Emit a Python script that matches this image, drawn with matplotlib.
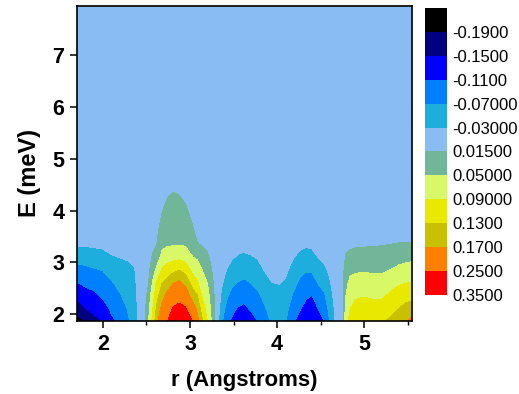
import numpy as np
import matplotlib
matplotlib.use("Agg")
import matplotlib.pyplot as plt
from matplotlib.colors import ListedColormap, BoundaryNorm

plt.rcParams['font.family'] = ['Liberation Sans', 'DejaVu Sans']

# energy rows (meV) and r columns (Angstroms) of the sampled field
e_rows = [1.87, 2.1, 2.35, 2.6, 2.85, 3.1, 3.35, 3.6, 3.9, 4.2, 4.5, 5.0, 7.94]
r_cols = [1.70, 1.80, 1.90, 2.00, 2.10, 2.20, 2.30, 2.36, 2.42, 2.47,
          2.52, 2.57, 2.62, 2.68, 2.74, 2.81, 2.88, 2.95, 3.02, 3.08,
          3.14, 3.20, 3.25, 3.30, 3.36, 3.42, 3.48, 3.55, 3.62, 3.70,
          3.78, 3.86, 3.94, 4.02, 4.10, 4.18, 4.26, 4.33, 4.40, 4.47,
          4.54, 4.60, 4.66, 4.71, 4.75, 4.79, 4.84, 4.90, 5.00, 5.10,
          5.20, 5.30, 5.40, 5.48, 5.56]

# one profile per r column, values at each e_rows entry
profiles = [
    [-0.210, -0.177, -0.141, -0.112, -0.084, -0.055, -0.024, -0.010, 0, 0, 0, 0, 0],
    [-0.185, -0.151, -0.127, -0.103, -0.080, -0.053, -0.025, -0.010, 0, 0, 0, 0, 0],
    [-0.160, -0.142, -0.119, -0.096, -0.074, -0.048, -0.024, -0.010, 0, 0, 0, 0, 0],
    [-0.148, -0.127, -0.104, -0.087, -0.069, -0.043, -0.022, -0.010, 0, 0, 0, 0, 0],
    [-0.115, -0.105, -0.090, -0.074, -0.054, -0.033, -0.018, -0.008, 0, 0, 0, 0, 0],
    [-0.105, -0.090, -0.073, -0.058, -0.044, -0.029, -0.016, -0.006, 0, 0, 0, 0, 0],
    [-0.072, -0.064, -0.055, -0.046, -0.037, -0.027, -0.014, -0.005, 0, 0, 0, 0, 0],
    [-0.050, -0.047, -0.043, -0.039, -0.033, -0.020, -0.010, 0, 0, 0, 0, 0, 0],
    [-0.020, -0.018, -0.015, -0.012, -0.010, -0.006, -0.003, 0, 0, 0, 0, 0, 0],
    [0, 0, 0, 0, 0, 0, 0, 0, 0, 0, 0, 0, 0],
    [0.045, 0.035, 0.025, 0.012, 0.005, 0, 0, 0, 0, 0, 0, 0, 0],
    [0.100, 0.088, 0.072, 0.053, 0.035, 0.018, 0.008, 0.003, 0, 0, 0, 0, 0],
    [0.160, 0.140, 0.118, 0.099, 0.059, 0.035, 0.015, 0.008, 0.003, 0, 0, 0, 0],
    [0.210, 0.185, 0.155, 0.130, 0.095, 0.060, 0.042, 0.031, 0.017, 0.008, 0.003, 0, 0],
    [0.248, 0.219, 0.186, 0.145, 0.109, 0.072, 0.045, 0.037, 0.026, 0.016, 0.007, 0, 0],
    [0.300, 0.259, 0.214, 0.170, 0.121, 0.077, 0.047, 0.039, 0.029, 0.020, 0.010, 0, 0],
    [0.310, 0.270, 0.228, 0.180, 0.130, 0.080, 0.048, 0.039, 0.029, 0.018, 0.008, 0, 0],
    [0.290, 0.257, 0.207, 0.157, 0.116, 0.073, 0.045, 0.035, 0.023, 0.012, 0.004, 0, 0],
    [0.255, 0.204, 0.155, 0.118, 0.082, 0.052, 0.036, 0.021, 0.010, 0.003, 0, 0, 0],
    [0.190, 0.164, 0.134, 0.097, 0.070, 0.045, 0.017, 0.008, 0.003, 0, 0, 0, 0],
    [0.135, 0.111, 0.086, 0.068, 0.050, 0.030, 0.012, 0.005, 0, 0, 0, 0, 0],
    [0.088, 0.076, 0.063, 0.050, 0.035, 0.020, 0.007, 0.002, 0, 0, 0, 0, 0],
    [0.045, 0.038, 0.032, 0.024, 0.015, 0.007, 0.002, 0, 0, 0, 0, 0, 0],
    [0, 0, 0, 0, 0, 0, 0, 0, 0, 0, 0, 0, 0],
    [-0.062, -0.049, -0.035, -0.024, -0.015, -0.008, -0.003, 0, 0, 0, 0, 0, 0],
    [-0.100, -0.082, -0.064, -0.047, -0.031, -0.018, -0.008, -0.002, 0, 0, 0, 0, 0],
    [-0.115, -0.101, -0.083, -0.064, -0.045, -0.026, -0.012, -0.004, 0, 0, 0, 0, 0],
    [-0.135, -0.114, -0.093, -0.072, -0.053, -0.034, -0.017, -0.006, 0, 0, 0, 0, 0],
    [-0.143, -0.120, -0.097, -0.077, -0.057, -0.037, -0.018, -0.006, 0, 0, 0, 0, 0],
    [-0.125, -0.106, -0.088, -0.070, -0.051, -0.033, -0.016, -0.005, 0, 0, 0, 0, 0],
    [-0.110, -0.095, -0.078, -0.061, -0.044, -0.027, -0.013, -0.004, 0, 0, 0, 0, 0],
    [-0.085, -0.074, -0.058, -0.043, -0.028, -0.017, -0.008, -0.002, 0, 0, 0, 0, 0],
    [-0.065, -0.055, -0.043, -0.031, -0.020, -0.012, -0.005, 0, 0, 0, 0, 0, 0],
    [-0.062, -0.052, -0.041, -0.029, -0.018, -0.010, -0.004, 0, 0, 0, 0, 0, 0],
    [-0.070, -0.059, -0.047, -0.035, -0.024, -0.014, -0.006, 0, 0, 0, 0, 0, 0],
    [-0.105, -0.090, -0.073, -0.058, -0.042, -0.027, -0.013, -0.004, 0, 0, 0, 0, 0],
    [-0.125, -0.107, -0.092, -0.077, -0.060, -0.040, -0.021, -0.008, -0.002, 0, 0, 0, 0],
    [-0.145, -0.125, -0.104, -0.086, -0.067, -0.046, -0.025, -0.010, -0.003, 0, 0, 0, 0],
    [-0.155, -0.134, -0.112, -0.089, -0.066, -0.044, -0.022, -0.008, -0.002, 0, 0, 0, 0],
    [-0.135, -0.111, -0.090, -0.069, -0.049, -0.030, -0.014, -0.004, 0, 0, 0, 0, 0],
    [-0.110, -0.094, -0.076, -0.057, -0.038, -0.022, -0.010, -0.003, 0, 0, 0, 0, 0],
    [-0.072, -0.061, -0.050, -0.037, -0.024, -0.013, -0.005, 0, 0, 0, 0, 0, 0],
    [-0.032, -0.028, -0.020, -0.012, -0.005, 0, 0, 0, 0, 0, 0, 0, 0],
    [0, 0, 0, 0, 0, 0, 0, 0, 0, 0, 0, 0, 0],
    [0, 0, 0, 0, 0, 0, 0, 0, 0, 0, 0, 0, 0],
    [0.075, 0.065, 0.050, 0.042, 0.033, 0.018, 0.006, 0.002, 0, 0, 0, 0, 0],
    [0.105, 0.090, 0.075, 0.059, 0.043, 0.025, 0.008, 0.002, 0, 0, 0, 0, 0],
    [0.118, 0.102, 0.086, 0.065, 0.045, 0.028, 0.010, 0.003, 0, 0, 0, 0, 0],
    [0.120, 0.105, 0.089, 0.067, 0.047, 0.029, 0.011, 0.003, 0, 0, 0, 0, 0],
    [0.122, 0.105, 0.085, 0.064, 0.045, 0.029, 0.012, 0.004, 0, 0, 0, 0, 0],
    [0.128, 0.108, 0.083, 0.063, 0.045, 0.030, 0.013, 0.004, 0, 0, 0, 0, 0],
    [0.135, 0.118, 0.098, 0.075, 0.051, 0.032, 0.015, 0.005, 0, 0, 0, 0, 0],
    [0.155, 0.132, 0.109, 0.086, 0.059, 0.037, 0.016, 0.006, 0, 0, 0, 0, 0],
    [0.168, 0.143, 0.117, 0.090, 0.063, 0.040, 0.016, 0.006, 0, 0, 0, 0, 0],
    [0.185, 0.151, 0.120, 0.093, 0.066, 0.042, 0.016, 0.006, 0, 0, 0, 0, 0],
]

levels = [-0.23, -0.19, -0.15, -0.11, -0.07, -0.03, 0.015,
          0.05, 0.09, 0.13, 0.17, 0.25, 0.35]
level_labels = ['-0.1900', '-0.1500', '-0.1100', '-0.07000', '-0.03000', '0.01500',
                '0.05000', '0.09000', '0.1300', '0.1700', '0.2500', '0.3500']
colors = ['#000000', '#000080', '#0000FF', '#0080FF', '#1EAEDE', '#88BCF2',
          '#72B69A', '#D8F868', '#E8E800', '#C8C000', '#FF8000', '#FF0000']

z = np.array(profiles).T

fig = plt.figure(figsize=(5.19, 3.94), dpi=100)
ax = fig.add_axes([0.148, 0.185, 0.646, 0.800])

cmap = ListedColormap(colors)
norm = BoundaryNorm(levels, cmap.N)
cs = ax.contourf(r_cols, e_rows, z, levels=levels, cmap=cmap, norm=norm)

ax.set_xlim(1.70, 5.55)
ax.set_ylim(1.87, 7.94)
ax.set_xticks([2, 3, 4, 5])
ax.set_xticks([2.5, 3.5, 4.5, 5.5], minor=True)
ax.set_yticks([2, 3, 4, 5, 6, 7])
ax.tick_params(axis='both', which='major', direction='out', length=5, width=1.1,
               labelsize=15.5, pad=4)
ax.tick_params(axis='x', which='minor', direction='out', length=3, width=1.0)
for lab in ax.get_xticklabels() + ax.get_yticklabels():
    lab.set_fontweight('bold')
for sp in ax.spines.values():
    sp.set_linewidth(1.2)

ax.set_xlabel('r (Angstroms)', fontsize=16, fontweight='bold', labelpad=11)
ax.set_ylabel('E (meV)', fontsize=17, fontweight='bold', labelpad=8)
ax.yaxis.label.set_y(0.47)

cax = fig.add_axes([0.819, 0.251, 0.042, 0.729])
cb = fig.colorbar(cs, cax=cax)
cb.set_ticks(levels[1:])
cb.set_ticklabels(level_labels)
cax.invert_yaxis()
cax.minorticks_off()
cax.tick_params(which='both', length=0, labelsize=12, pad=4)
cb.outline.set_visible(False)

fig.savefig('out.png', dpi=100)
